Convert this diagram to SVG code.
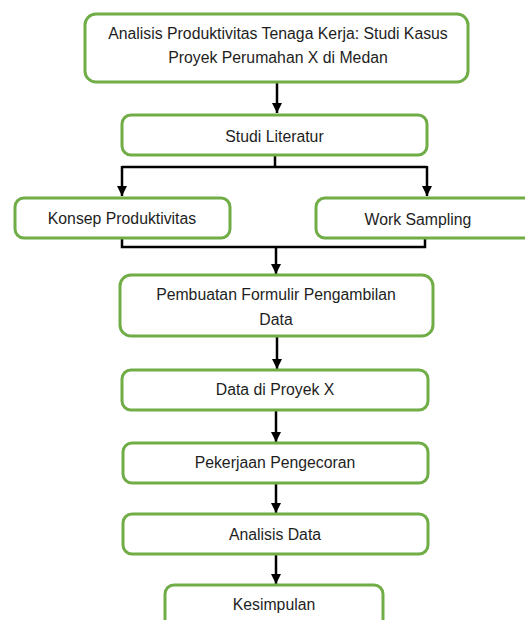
<svg xmlns="http://www.w3.org/2000/svg" width="525" height="620" viewBox="0 0 525 620">
<style>
.box{fill:#fff;stroke:#70AD47;stroke-width:3}
.t{font-family:"Liberation Sans",Arial,sans-serif;font-size:15.8px;fill:#1e1e1e;text-anchor:middle}
.c{fill:none;stroke:#000;stroke-width:2.5}
</style>
<defs>
<marker id="ah" viewBox="0 0 10 10" refX="10" refY="5" markerWidth="4.4" markerHeight="4" markerUnits="strokeWidth" orient="auto">
<path d="M0,0 L10,5 L0,10 z" fill="#000"/>
</marker>
</defs>
<rect width="525" height="620" fill="#fff"/>
<g id="connectors">
<path class="c" d="M277,82 V113" marker-end="url(#ah)"/>
<path class="c" d="M275,155 V167"/>
<path class="c" d="M122,167 H427"/>
<path class="c" d="M122,166 V196" marker-end="url(#ah)"/>
<path class="c" d="M427,166 V196" marker-end="url(#ah)"/>
<path class="c" d="M122,238 V247 H425 V238"/>
<path class="c" d="M276,247 V274" marker-end="url(#ah)"/>
<path class="c" d="M277,336 V369" marker-end="url(#ah)"/>
<path class="c" d="M276,410 V442" marker-end="url(#ah)"/>
<path class="c" d="M276,483 V513" marker-end="url(#ah)"/>
<path class="c" d="M276,554 V584" marker-end="url(#ah)"/>
</g>
<g id="n1">
<rect class="box" x="85" y="14" width="383" height="68" rx="11"/>
<text class="t" x="278" y="39">Analisis Produktivitas Tenaga Kerja: Studi Kasus</text>
<text class="t" x="278" y="63">Proyek Perumahan X di Medan</text>
</g>
<g id="n2">
<rect class="box" x="122" y="115" width="305" height="40" rx="9"/>
<text class="t" x="274.5" y="142">Studi Literatur</text>
</g>
<g id="n3">
<rect class="box" x="15" y="198" width="215" height="40" rx="9"/>
<text class="t" x="122" y="224">Konsep Produktivitas</text>
</g>
<g id="n4">
<rect class="box" x="316" y="198" width="220" height="40" rx="9"/>
<text class="t" x="418" y="225">Work Sampling</text>
</g>
<g id="n5">
<rect class="box" x="120" y="275" width="313" height="61" rx="11"/>
<text class="t" x="276" y="300">Pembuatan Formulir Pengambilan</text>
<text class="t" x="276" y="325">Data</text>
</g>
<g id="n6">
<rect class="box" x="122" y="370" width="306" height="40" rx="9"/>
<text class="t" x="275" y="395">Data di Proyek X</text>
</g>
<g id="n7">
<rect class="box" x="123" y="443" width="305" height="40" rx="9"/>
<text class="t" x="275" y="468">Pekerjaan Pengecoran</text>
</g>
<g id="n8">
<rect class="box" x="123" y="514" width="305" height="40" rx="9"/>
<text class="t" x="275" y="540">Analisis Data</text>
</g>
<g id="n9">
<rect class="box" x="165" y="585" width="218" height="45" rx="9"/>
<text class="t" x="274" y="610">Kesimpulan</text>
</g>
</svg>
